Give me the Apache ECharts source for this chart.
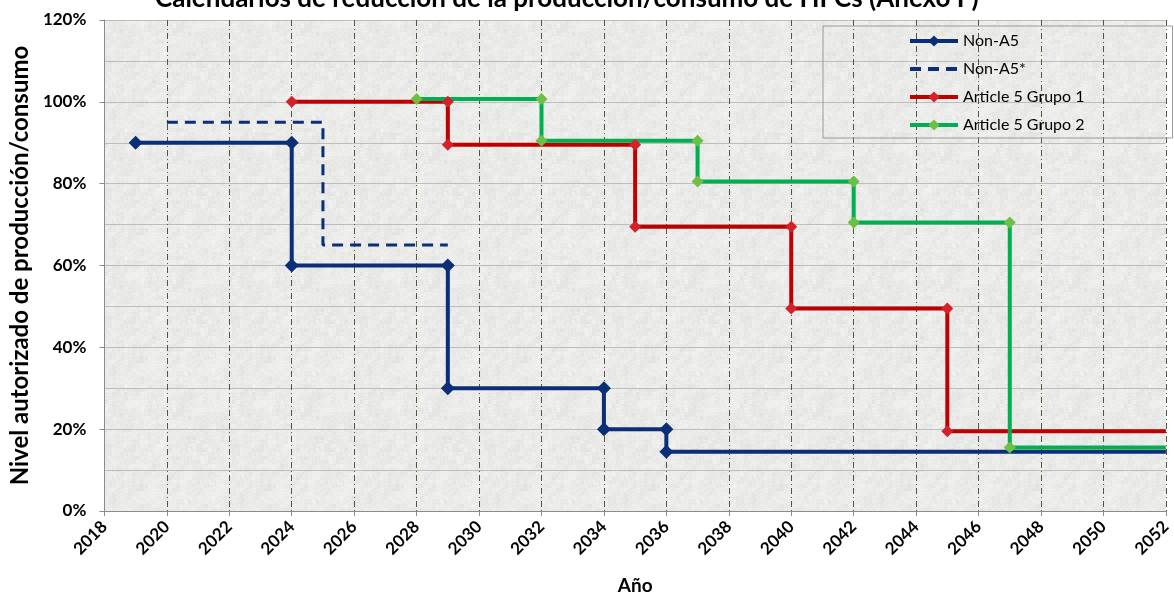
<!DOCTYPE html>
<html><head><meta charset="utf-8">
<script src="https://cdn.jsdelivr.net/npm/echarts@6/dist/echarts.min.js"></script>
<style>html,body{margin:0;padding:0;background:#fff}#c{width:1174px;height:600px}</style>
</head><body><div id="c"></div>
<script>
// ---- data ----
const titleText = 'Calendarios de reducción de la producción/consumo de HFCs (Anexo F)';
const seriesNames = ['Non-A5', 'Non-A5*', 'Article 5 Grupo 1', 'Article 5 Grupo 2'];
const yearsNonA5 = [2019, 2024, 2024, 2029, 2029, 2034, 2034, 2036, 2036, 2052];
const valuesNonA5 = [90, 90, 60, 60, 30, 30, 20, 20, 14.5, 14.5];
const yearsNonA5Star = [2020, 2025, 2025, 2029];
const valuesNonA5Star = [95, 95, 65, 65];
const yearsG1 = [2024, 2029, 2029, 2035, 2035, 2040, 2040, 2045, 2045, 2052];
const valuesG1 = [100, 100, 89.5, 89.5, 69.5, 69.5, 49.5, 49.5, 19.5, 19.5];
const yearsG2 = [2028, 2032, 2032, 2037, 2037, 2042, 2042, 2047, 2047, 2052];
const valuesG2 = [100.7, 100.7, 90.5, 90.5, 80.5, 80.5, 70.5, 70.5, 15.5, 15.5];
const xTickMin = 2018, xTickMax = 2052, xTickStep = 2;
const yTickMin = 0, yTickMax = 120, yTickStep = 20;

// ---- texture (deterministic hash noise, decorative only) ----
function makeTexture() {
  const s = 128, cv = document.createElement('canvas');
  cv.width = s; cv.height = s;
  const ctx = cv.getContext('2d');
  const img = ctx.createImageData(s, s);
  function h(x, y) { let n = (x * 374761393 + y * 668265263) | 0; n = Math.imul(n ^ (n >>> 13), 1274126177); return ((n ^ (n >>> 16)) >>> 0) / 4294967295; }
  function blob(x, y) {
    const gx = Math.floor(x / 4), gy = Math.floor(y / 4);
    return (h(gx % 32, gy % 32) + h((gx + 1) % 32, gy % 32) + h(gx % 32, (gy + 1) % 32)) / 3;
  }
  for (let y = 0; y < s; y++) for (let x = 0; x < s; x++) {
    const v = 247 - Math.round(h(x + 7, y + 3) * 10 + blob(x, y) * 16);
    const i = (y * s + x) * 4;
    img.data[i] = v; img.data[i + 1] = v; img.data[i + 2] = v - 2; img.data[i + 3] = 255;
  }
  ctx.putImageData(img, 0, 0);
  return cv;
}

function pairs(xs, ys) { return xs.map((x, i) => ({ value: [x, ys[i]], symbolSize: x === xTickMax ? 0 : undefined })); }

const chart = echarts.init(document.getElementById('c'), null, { renderer: 'canvas' });
const font = 'Lato, "Liberation Sans", sans-serif';
chart.setOption({
  backgroundColor: '#fff',
  animation: false,
  title: {
    text: titleText, left: 150, top: -19,
    textStyle: { fontFamily: font, fontWeight: 'bold', fontSize: 26, color: '#000' }
  },
  legend: {
    orient: 'vertical', left: 823, top: 26,
    padding: [7, 88, 5, 85], itemGap: 12, itemWidth: 48, itemHeight: 14,
    borderColor: '#9a9a9a', borderWidth: 1, backgroundColor: 'transparent',
    textStyle: { fontFamily: font, fontSize: 16, color: '#000' },
    lineStyle: { width: 4 },
    data: [
      { name: seriesNames[0] },
      { name: seriesNames[1], itemStyle: { opacity: 0, borderWidth: 0 } },
      { name: seriesNames[2] },
      { name: seriesNames[3] }
    ]
  },
  grid: {
    left: 100, right: 4, top: 20, bottom: 82, show: true,
    backgroundColor: { image: makeTexture(), repeat: 'repeat' }, borderWidth: 0
  },
  xAxis: {
    type: 'value', min: xTickMin, max: xTickMax, interval: xTickStep,
    name: 'Año', nameLocation: 'middle', nameGap: 65,
    nameTextStyle: { fontFamily: font, fontWeight: 'bold', fontSize: 19, color: '#000' },
    axisLine: { show: true, lineStyle: { color: '#8c8c8c', width: 1 } },
    axisTick: { show: true, length: 5, lineStyle: { color: '#8c8c8c' } },
    axisLabel: { rotate: 45, margin: 13, fontFamily: font, fontWeight: 'bold', fontSize: 17, color: '#000', formatter: v => String(v) },
    splitLine: { show: true, lineStyle: { color: '#55553a', width: 1, type: [6, 3, 1, 3] } }
  },
  yAxis: {
    type: 'value', min: yTickMin, max: yTickMax, interval: yTickStep,
    name: 'Nivel autorizado de producción/consumo', nameLocation: 'middle', nameGap: 70,
    nameTextStyle: { fontFamily: font, fontWeight: 'bold', fontSize: 24, color: '#000' },
    axisLine: { show: true, lineStyle: { color: '#8c8c8c', width: 1 } },
    axisTick: { show: true, length: 5, lineStyle: { color: '#8c8c8c' } },
    axisLabel: { margin: 18, fontFamily: font, fontWeight: 'bold', fontSize: 17, color: '#000', formatter: v => v + '%' },
    minorTick: { show: false, splitNumber: 2 },
    splitLine: { show: true, lineStyle: { color: '#bdbdbd', width: 1 } },
    minorSplitLine: { show: true, lineStyle: { color: '#bdbdbd', width: 1 } }
  },
  series: [
    { name: seriesNames[0], type: 'line', data: pairs(yearsNonA5, valuesNonA5),
      symbol: 'diamond', symbolSize: 14, color: '#0b2e78',
      lineStyle: { width: 4, color: '#0b2e78' }, itemStyle: { color: '#0b2e78' } },
    { name: seriesNames[1], type: 'line', data: pairs(yearsNonA5Star, valuesNonA5Star),
      symbol: 'none', color: '#0b2e78',
      lineStyle: { width: 3, color: '#0b2e78', type: [11, 7] } },
    { name: seriesNames[2], type: 'line', data: pairs(yearsG1, valuesG1),
      symbol: 'diamond', symbolSize: 12, color: '#c00000',
      lineStyle: { width: 4, color: '#c00000' }, itemStyle: { color: '#d4222a' } },
    { name: seriesNames[3], type: 'line', data: pairs(yearsG2, valuesG2),
      symbol: 'diamond', symbolSize: 12, color: '#00b050',
      lineStyle: { width: 4, color: '#00b050' }, itemStyle: { color: '#6cc046' } }
  ]
});
</script></body></html>
